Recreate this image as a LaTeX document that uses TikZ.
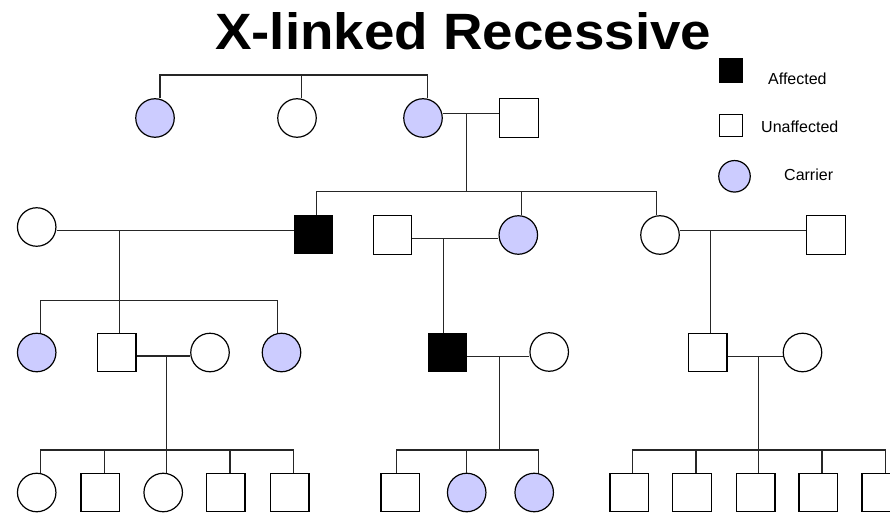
\documentclass[tikz,border=0pt]{standalone}
\usepackage{fontspec}
\setmainfont{Liberation Sans}
\usepackage{graphicx}
\definecolor{carrierblue}{RGB}{204,204,255}
\tikzset{
  person/.style={draw=black, line width=1.2pt, inner sep=0pt, minimum size=38.5pt},
  male/.style={person, rectangle},
  female/.style={person, circle},
  affected/.style={fill=black},
  carrier/.style={fill=carrierblue},
  link/.style={draw=black!85, line width=1.3pt},
  legendtext/.style={anchor=base west, inner sep=0pt, font=\fontsize{16}{18}\selectfont}
}
\begin{document}
\begin{tikzpicture}[x=1pt, y=-1pt]
\useasboundingbox (0,0) rectangle (890,513);
\clip (0,0) rectangle (890,513);
\fill[white] (0,0) rectangle (890,513);

% title
\node[anchor=south west, inner sep=0pt] (title) at (215,50)
  {\resizebox{496pt}{37pt}{\bfseries X-linked Recessive}};

% legend
\node[male, affected, minimum width=23pt, minimum height=24pt] (LA) at (731.3,70.3) {};
\node[legendtext] (LAt) at (768,85) {Affected};
\node[male, minimum width=23pt, minimum height=22pt] (LU) at (731.3,125.5) {};
\node[legendtext] (LUt) at (761,133) {Unaffected};
\node[female, carrier, minimum size=31.5pt] (LC) at (734.5,176.3) {};
\node[legendtext] (LCt) at (784,180) {Carrier};

% Generation I
\node[female, carrier] (I1) at (155,118) {};
\node[female] (I2) at (297,118) {};
\node[female, carrier] (I3) at (423,118) {};
\node[male] (I4) at (519,118) {};

% Generation II
\node[female] (II1) at (36.7,227) {};
\node[male, affected] (II2) at (313.5,234.5) {};
\node[male] (II3) at (392.5,235) {};
\node[female, carrier] (II4) at (518.3,235) {};
\node[female] (II5) at (660,235) {};
\node[male] (II6) at (826,235) {};

% Generation III
\node[female, carrier] (III1) at (36.7,352.5) {};
\node[male] (III2) at (116.8,352.5) {};
\node[female] (III3) at (210,352.5) {};
\node[female, carrier] (III4) at (281.5,352.5) {};
\node[male, affected] (III5) at (447.5,352.5) {};
\node[female] (III6) at (549.2,352) {};
\node[male] (III7) at (707.8,352.5) {};
\node[female] (III8) at (802.5,352.5) {};

% Generation IV
\node[female] (IV1) at (36.7,492.5) {};
\node[male] (IV2) at (100.2,492.5) {};
\node[female] (IV3) at (163.2,492.5) {};
\node[male] (IV4) at (225.8,492.5) {};
\node[male] (IV5) at (289.7,492.5) {};
\node[male] (IV6) at (400.2,492.5) {};
\node[female, carrier] (IV7) at (466.7,492.5) {};
\node[female, carrier] (IV8) at (534.2,492.5) {};
\node[male] (IV9) at (629.2,492.5) {};
\node[male] (IV10) at (692,492.5) {};
\node[male] (IV11) at (755.8,492.5) {};
\node[male] (IV12) at (818.2,492.5) {};
\node[male] (IV13) at (881.3,492.5) {};

% junction coordinates
\coordinate (sA1) at (160,75);
\coordinate (sA2) at (301.7,75);
\coordinate (sA3) at (427.3,75);
\coordinate (m1) at (466.7,113.3);
\coordinate (sB0) at (466.7,191.7);
\coordinate (sB1) at (316.7,191.7);
\coordinate (sB2) at (521.7,191.7);
\coordinate (sB3) at (656.7,191.7);
\coordinate (m2) at (119.3,230.7);
\coordinate (sC1) at (40.7,300.7);
\coordinate (sC2) at (277.7,300.7);
\coordinate (m3) at (443.3,238.3);
\coordinate (m4) at (710.7,230.7);
\coordinate (m5) at (166.7,356);
\coordinate (sD0) at (166.7,450);
\coordinate (sD1) at (40.7,450);
\coordinate (sD2) at (104.3,450);
\coordinate (sD4) at (230,450);
\coordinate (sD5) at (293.3,450);
\coordinate (m6) at (499.3,356.7);
\coordinate (sE0) at (499.3,450);
\coordinate (sE1) at (396.7,450);
\coordinate (sE2) at (466.7,450);
\coordinate (sE3) at (538.3,450);
\coordinate (m7) at (758.3,356.7);
\coordinate (sF0) at (758.3,450);
\coordinate (sF1) at (632.7,450);
\coordinate (sF2) at (696,450);
\coordinate (sF4) at (822,450);
\coordinate (sF5) at (885.7,450);

% Generation I connectors
\draw[link] (sA1 |- I1.north) -- (sA1) -- (sA3) -- (sA3 |- I3.north);
\draw[link] (sA2) -- (sA2 |- I2.north);
\draw[link] (I3.east |- m1) -- (I4.west |- m1);
\draw[link] (m1) -- (sB0);

% Generation II connectors
\draw[link] (sB1 |- II2.north) -- (sB1) -- (sB3) -- (sB3 |- II5.north);
\draw[link] (sB2) -- (sB2 |- II4.north);
\draw[link] (II1.east |- m2) -- (II2.west |- m2);
\draw[link] (m2) -- (m2 |- III2.north);
\draw[link] (sC1 |- III1.north) -- (sC1) -- (sC2) -- (sC2 |- III4.north);
\draw[link] (II3.east |- m3) -- (II4.west |- m3);
\draw[link] (m3) -- (m3 |- III5.north);
\draw[link] (II5.east |- m4) -- (II6.west |- m4);
\draw[link] (m4) -- (m4 |- III7.north);

% Generation III connectors
\draw[link] (III2.east |- m5) -- (III3.west |- m5);
\draw[link] (m5) -- (sD0);
\draw[link] (sD1 |- IV1.north) -- (sD1) -- (sD5) -- (sD5 |- IV5.north);
\draw[link] (sD2) -- (sD2 |- IV2.north);
\draw[link] (sD0) -- (sD0 |- IV3.north);
\draw[link] (sD4) -- (sD4 |- IV4.north);

\draw[link] (III5.east |- m6) -- (III6.west |- m6);
\draw[link] (m6) -- (sE0);
\draw[link] (sE1 |- IV6.north) -- (sE1) -- (sE3) -- (sE3 |- IV8.north);
\draw[link] (sE2) -- (sE2 |- IV7.north);

\draw[link] (III7.east |- m7) -- (III8.west |- m7);
\draw[link] (m7) -- (sF0);
\draw[link] (sF1 |- IV9.north) -- (sF1) -- (sF5) -- (sF5 |- IV13.north);
\draw[link] (sF2) -- (sF2 |- IV10.north);
\draw[link] (sF0) -- (sF0 |- IV11.north);
\draw[link] (sF4) -- (sF4 |- IV12.north);
\end{tikzpicture}
\end{document}
